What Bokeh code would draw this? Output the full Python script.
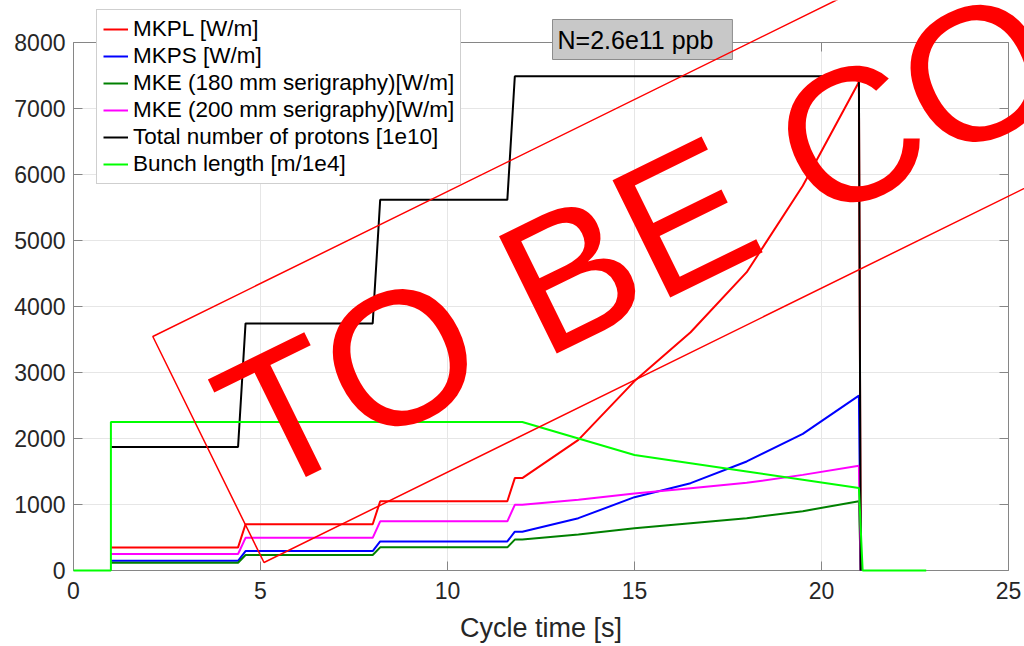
import math
from bokeh.plotting import figure
from bokeh.models import (Range1d, LinearAxis, Label, PolyAnnotation, Legend,
                          LegendItem, FixedTicker, Grid)
from bokeh.embed import file_html
from bokeh.resources import INLINE

# ---------------- data ----------------
t_ke = [1.0, 4.4, 4.6, 8.0, 8.2, 11.6, 11.8, 12.0, 13.5, 15.0, 16.5, 18.0, 19.5, 21.0, 21.05]
mkpl = [350, 350, 700, 700, 1050, 1050, 1400, 1400, 1980, 2870, 3610, 4520, 5830, 7400, 0]
mkps = [147, 147, 294, 294, 441, 441, 588, 588, 793, 1111, 1323, 1652, 2070, 2650, 0]
mke180 = [117, 117, 234, 234, 351, 351, 468, 468, 545, 641, 717, 793, 899, 1050, 0]
mke200 = [250, 250, 495, 495, 745, 745, 995, 995, 1071, 1167, 1247, 1328, 1449, 1586, 0]
t_protons = [1.0, 4.4, 4.6, 8.0, 8.2, 11.6, 11.8, 21.0, 21.05]
protons = [1872, 1872, 3744, 3744, 5616, 5616, 7488, 7488, 0]
t_bunch = [0.0, 1.0, 1.0, 12.0, 13.5, 15.0, 16.5, 18.0, 19.5, 21.0, 21.1, 22.8]
bunch = [0, 0, 2250, 2250, 2000, 1750, 1625, 1500, 1375, 1250, 0, 0]

labels = ["MKPL [W/m]", "MKPS [W/m]", "MKE (180 mm serigraphy)[W/m]",
          "MKE (200 mm serigraphy)[W/m]", "Total number of protons [1e10]",
          "Bunch length [m/1e4]"]
colors = ["#ff0000", "#0000ff", "#008000", "#ff00ff", "#000000", "#00ff00"]
x_ticks = [0, 5, 10, 15, 20, 25]
y_ticks = [0, 1000, 2000, 3000, 4000, 5000, 6000, 7000, 8000]
annotation_text = "N=2.6e11 ppb"
watermark_text = "TO BE CO"

# ---------------- layout ----------------
W, H = 1024, 646
BOX_L, BOX_R, BOX_T, BOX_B = 73, 1008, 42, 570   # axes box in canvas px
XA, XB, YA, YB = 0, 25, 0, 8000                  # axes limits
kx = (BOX_R - BOX_L) / (XB - XA)
ky = (BOX_B - BOX_T) / (YB - YA)
x_range = Range1d(XA - BOX_L / kx, XB + (W - BOX_R) / kx)
y_range = Range1d(YA - (H - BOX_B) / ky, YB + BOX_T / ky)

AX = "#868686"
TXT = "#262626"
FONT = "Liberation Sans"

p = figure(width=W, height=H, x_range=x_range, y_range=y_range,
           output_backend="svg", toolbar_location=None,
           x_axis_location=None, y_axis_location=None,
           min_border=0)
p.min_border_left = p.min_border_right = p.min_border_top = p.min_border_bottom = 0
p.background_fill_color = "white"
p.border_fill_color = "white"
p.outline_line_color = None
# drop the figure's default full-canvas grids
p.center = [r for r in p.center if not isinstance(r, Grid)]


def make_axis(ticks, loc, bounds, show_labels):
    ax = LinearAxis(ticker=FixedTicker(ticks=ticks), fixed_location=loc, bounds=bounds)
    ax.level = "underlay"
    ax.axis_line_color = AX
    ax.axis_line_width = 1
    ax.major_tick_line_color = AX
    ax.major_tick_in = 9
    ax.major_tick_out = 0
    ax.minor_tick_line_color = None
    ax.major_label_text_font = FONT
    ax.major_label_text_color = TXT if show_labels else None
    ax.major_label_text_font_size = "23px"
    return ax


bottom = make_axis(x_ticks, YA, (XA, XB), True)
bottom.major_label_standoff = 11
bottom.axis_label = "Cycle time [s]"
bottom.axis_label_text_font = FONT
bottom.axis_label_text_font_size = "27px"
bottom.axis_label_text_font_style = "normal"
bottom.axis_label_text_color = TXT
bottom.axis_label_standoff = 11
p.add_layout(bottom, "below")

left = make_axis(y_ticks, XA, (YA, YB), True)
left.major_label_standoff = 8
p.add_layout(left, "left")

top = make_axis(x_ticks, YB, (XA, XB), False)
p.add_layout(top, "above")
right = make_axis(y_ticks, XB, (YA, YB), False)
p.add_layout(right, "right")

# grid lines at the interior tick positions, inside the axes box
gx = x_ticks[1:-1]
gy = y_ticks[1:-1]
p.segment(x0=gx, y0=[YA] * len(gx), x1=gx, y1=[YB] * len(gx),
          line_color="#e6e6e6", line_width=1, level="image")
p.segment(x0=[XA] * len(gy), y0=gy, x1=[XB] * len(gy), y1=gy,
          line_color="#e6e6e6", line_width=1, level="image")

series = [(t_ke, mkpl), (t_ke, mkps), (t_ke, mke180), (t_ke, mke200),
          (t_protons, protons), (t_bunch, bunch)]
items = []
for (xs, ys), lab, col in zip(series, labels, colors):
    r = p.line(xs, ys, line_color=col, line_width=2)
    items.append(LegendItem(label=lab, renderers=[r]))

legend = Legend(items=items, location=(96, H - 184))
legend.border_line_color = "#a0a0a0"
legend.border_line_width = 1
legend.background_fill_color = "white"
legend.background_fill_alpha = 1.0
legend.label_text_font = FONT
legend.label_text_font_size = "22.5px"
legend.label_text_color = "#000000"
legend.glyph_width = 25
legend.glyph_height = 20
legend.label_standoff = 5
legend.padding = 6
legend.spacing = 1
legend.margin = 0
p.add_layout(legend)


# screenshot px -> data coords
def dx(sx):
    return XA + (sx - BOX_L) / kx


def dy(sy):
    return YA + (BOX_B - sy) / ky


ann = Label(x=dx(552), y=dy(39), text=annotation_text, text_font=FONT,
            text_font_size="25px", text_color="#000000", text_align="left",
            text_baseline="middle", background_fill_color="#c8c8c8",
            border_line_color="#8c8c8c", border_line_width=1,
            padding=dict(left=5, right=19, top=6, bottom=6))
p.add_layout(ann)

# watermark
ang = 26.2
ca, sa = math.cos(math.radians(ang)), math.sin(math.radians(ang))
L = 1100
tl = (152.3, 336.0)
bl = (263.5, 562.0)
corners = [tl, (tl[0] + L * ca, tl[1] - L * sa), (bl[0] + L * ca, bl[1] - L * sa), bl]
rect = PolyAnnotation(xs=[dx(c[0]) for c in corners], ys=[dy(c[1]) for c in corners],
                      fill_alpha=0, line_color="#ff0000", line_alpha=1.0,
                      line_width=1.5, level="overlay")
p.add_layout(rect)

wm = Label(x=dx(232), y=dy(439), text=watermark_text, angle=ang, angle_units="deg",
           text_font=FONT, text_font_size="190px", text_color="#ff0000",
           text_align="left", text_baseline="alphabetic", level="overlay")
p.add_layout(wm)

open("out.html", "w").write(file_html(p, INLINE))
